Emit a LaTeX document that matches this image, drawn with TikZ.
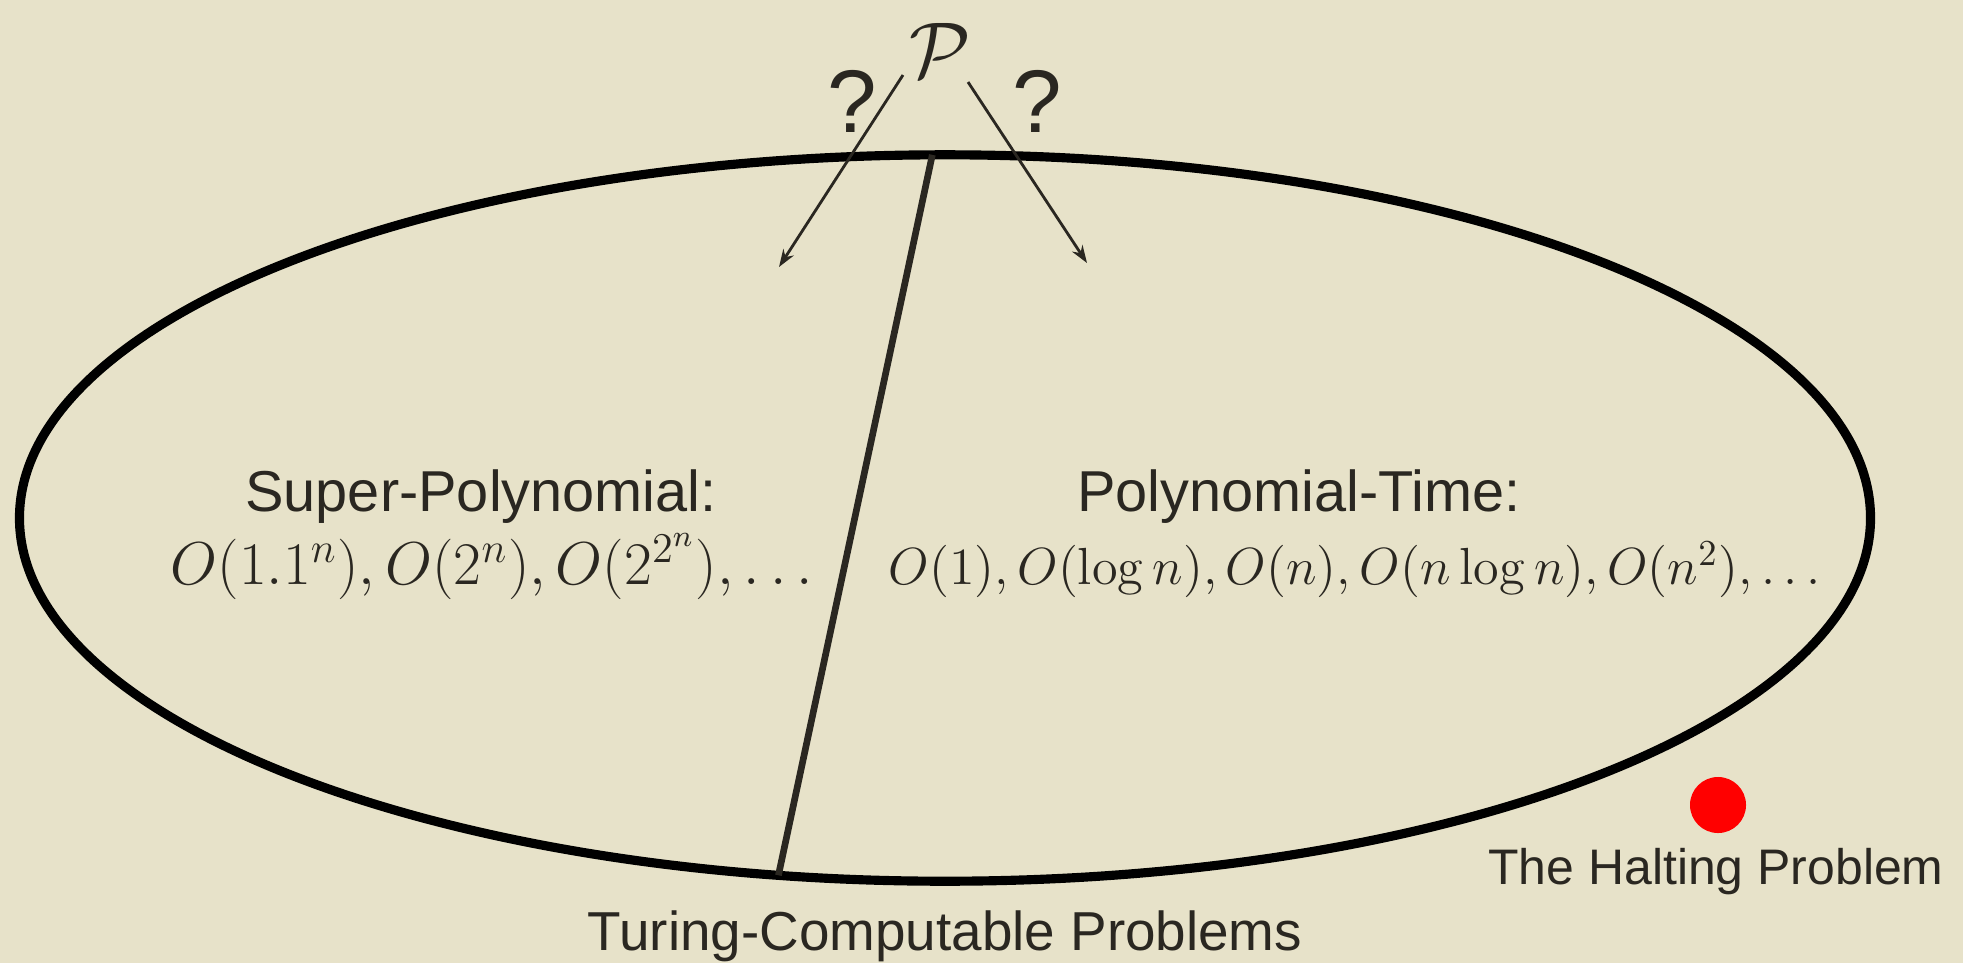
\RequirePackage{fix-cm}
\documentclass[tikz,border=0pt]{standalone}
\usepackage[no-math]{fontspec}
\usepackage{amsmath,amssymb}
\usepackage{tikz}
\usetikzlibrary{arrows.meta, positioning, shapes.geometric}
\usepackage{xcolor}
\setmainfont{Liberation Sans}
\definecolor{parchment}{RGB}{231,226,201}
\definecolor{inkgray}{RGB}{42,39,33}

\begin{document}
\begin{tikzpicture}[x=0.01cm, y=0.01cm,
  every node/.style={inner sep=0pt, outer sep=0pt, text=inkgray},
  settitle/.style={font=\fontsize{16.4}{19}\selectfont, anchor=base},
  bigo/.style={font=\fontsize{17.2}{20}\selectfont, anchor=base},
  guess/.style={font=\fontsize{25.3}{30}\selectfont, anchor=base},
  maybe/.style={-{Stealth[length=5pt, width=3.5pt]}, line width=0.8pt, draw=inkgray}]
  \fill[parchment] (0,0) rectangle (1963,-963);
  \useasboundingbox (0,0) rectangle (1963,-963);
  % the set of all computable problems
  \node[draw=black, ellipse, line width=2.6pt, minimum width=18.5cm, minimum height=7.26cm] (tcp) at (945,-518) {};
  \draw[line width=1.9pt, inkgray] (tcp.92.2) -- (tcp.245.4);
  \node[settitle] (superpoly) at (481,-511) {Super-Polynomial:};
  \node[bigo] (supermath) at (492,-584) {$O(1.1^n), O(2^n), O(2^{2^n}), \ldots$};
  \node[settitle] (polytime) at (1299,-511) {Polynomial-Time:};
  \node[bigo, font=\fontsize{14.85}{18}\selectfont] (polymath) at (1355,-584) {$O(1), O(\log n), O(n), O(n\log n), O(n^2), \ldots$};
  \node[settitle, font=\fontsize{15.6}{19}\selectfont] (tcplabel) at (945,-950) {Turing-Computable Problems};
  % outside the ellipse
  \node[circle, fill=red, minimum size=0.56cm] (haltdot) at (1718,-805) {};
  \node[font=\fontsize{14.2}{17}\selectfont, anchor=base] (halt) at (1716,-884) {The Halting Problem};
  % where does P go?
  \node[font=\fontsize{22.5}{27}\selectfont, anchor=base] (pclass) at (940,-77) {$\mathcal{P}$};
  \node[guess] (qleft) at (852,-132) {?};
  \node[guess] (qright) at (1037,-132) {?};
  \coordinate (fromL) at (903,-75);
  \coordinate (fromR) at (968,-82);
  \coordinate (intoL) at (779,-267);
  \coordinate (intoR) at (1087,-263);
  \draw[maybe] (fromL) -- (intoL);
  \draw[maybe] (fromR) -- (intoR);
\end{tikzpicture}
\end{document}
